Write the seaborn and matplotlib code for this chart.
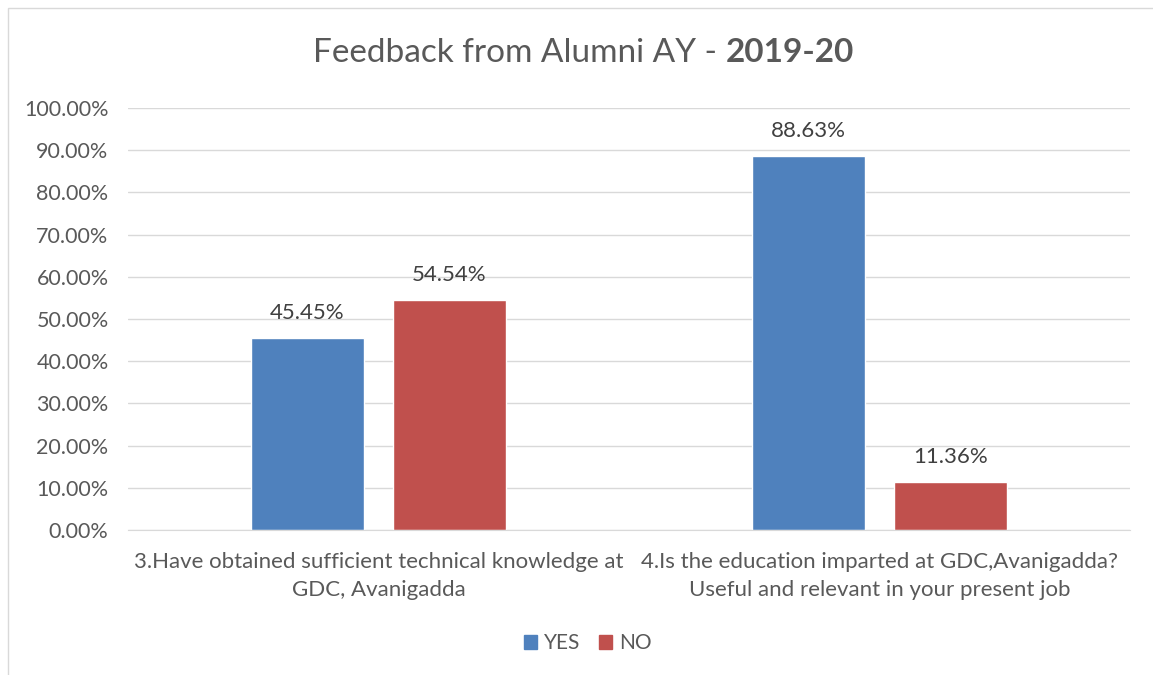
import pandas as pd
import matplotlib.pyplot as plt
import seaborn as sns
from matplotlib.patches import Rectangle, Patch

# chart data
questions = ["3.Have obtained sufficient technical knowledge at\nGDC, Avanigadda",
             "4.Is the education imparted at GDC,Avanigadda?\nUseful and relevant in your present job"]
answers = ["YES", "NO"]
yes_pct = [45.45, 88.63]
no_pct = [54.54, 11.36]

df = pd.DataFrame({
    "Question": questions * 2,
    "Answer": ["YES"] * 2 + ["NO"] * 2,
    "Pct": yes_pct + no_pct,
})

sns.set_style("white")
plt.rcParams['font.family'] = ['Lato', 'DejaVu Sans']
txt = "#595959"

fig = plt.figure(figsize=(11.53, 6.75), dpi=100)
ax = fig.add_axes([0.111, 0.215, 0.869, 0.625])

sns.barplot(data=df, x="Question", y="Pct", hue="Answer", hue_order=answers,
            palette={"YES": "#4F81BD", "NO": "#C0504D"},
            width=0.567, gap=0.21, ax=ax, legend=False, saturation=1)

ax.set_ylim(0, 100)
ax.set_yticks(range(0, 101, 10))
ax.set_yticklabels([f"{v:.2f}%" for v in range(0, 101, 10)], fontsize=15.5, color=txt)
ax.yaxis.grid(True, color="#D9D9D9", linewidth=1)
ax.set_axisbelow(True)
for s in ["top", "right", "left"]:
    ax.spines[s].set_visible(False)
ax.spines["bottom"].set_color("#D9D9D9")
ax.tick_params(axis="y", length=0, pad=14)
ax.tick_params(axis="x", length=0, pad=16)
ax.set_xticklabels(questions, fontsize=16, color=txt, linespacing=1.5)
ax.set_xlabel("")
ax.set_ylabel("")

for c in ax.containers:
    ax.bar_label(c, labels=[f"{v:.2f}%" for v in c.datavalues], padding=11,
                 fontsize=16, color="#404040")

# title with bold year
t1 = fig.text(0.5, 0.922, "Feedback from Alumni AY - ", fontsize=24, color=txt,
              ha="left", va="center")
t2 = fig.text(0.5, 0.922, "2019-20", fontsize=24, color=txt, fontweight="bold",
              ha="left", va="center")
fig.canvas.draw()
r = fig.canvas.get_renderer()
w1 = t1.get_window_extent(r).width / fig.bbox.width
w2 = t2.get_window_extent(r).width / fig.bbox.width
x0 = 0.506 - (w1 + w2) / 2
t1.set_x(x0)
t2.set_x(x0 + w1)

# legend
handles = [Patch(color="#4F81BD"), Patch(color="#C0504D")]
fig.legend(handles, answers, loc="center", bbox_to_anchor=(0.51, 0.047), ncol=2,
           frameon=False, fontsize=15, handlelength=0.6, handleheight=0.6,
           handletextpad=0.35, columnspacing=0.9, labelcolor=txt)

# chart border
fig.patches.append(Rectangle((8 / 1153, -0.1), 1.2, (667 / 675) + 0.1,
                             transform=fig.transFigure, fill=False,
                             edgecolor="#D9D9D9", linewidth=1))

plt.savefig("out.png", dpi=100)
